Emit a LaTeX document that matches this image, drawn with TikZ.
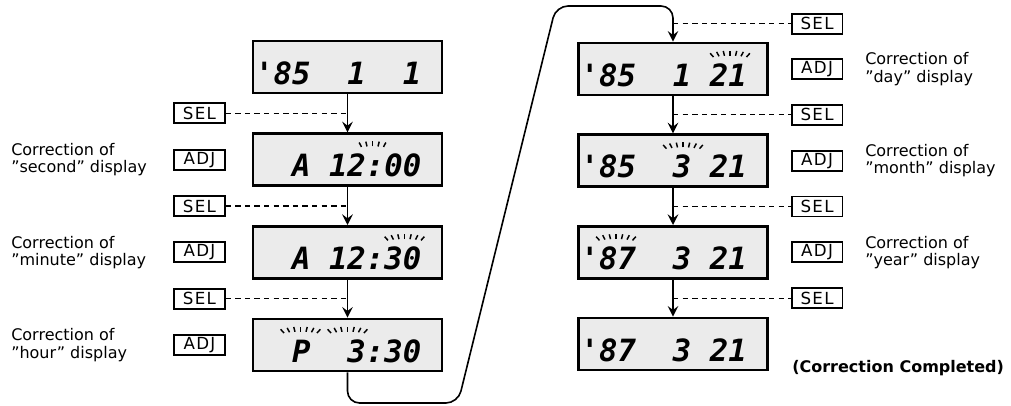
\documentclass[tikz,border=0pt]{standalone}
\usepackage{fontspec}
\setmainfont{DejaVu Sans}
\newfontfamily\lcdfont{DejaVu Sans Mono Bold Oblique}
\newfontfamily\keyfont{DejaVu Sans}[LetterSpace=8]
\usetikzlibrary{arrows.meta,positioning,calc}

\newcommand{\blinkmarks}[3]{%
  \foreach \k in {-#3,...,#3}
    \draw[ray] ($(#1.north)+(#2+\k*5.5,{-14-0.15*\k*\k})$) -- ++({90-\k*14}:5);}

\begin{document}
\begin{tikzpicture}[x=0.75pt,y=0.75pt,>={Stealth[length=8pt,width=8pt,inset=3pt]},
  lcd/.style={draw,line width=2pt,fill=black!8,minimum width=141.75pt,minimum height=39pt,inner sep=0pt,
    font=\lcdfont\fontsize{23}{24}\selectfont,text height=25.5pt,text depth=0pt},
  keybox/.style={draw,line width=1.3pt,minimum width=38pt,minimum height=15pt,inner sep=0pt,
    font=\keyfont\fontsize{12.5}{14}\selectfont},
  lab/.style={anchor=west,align=left,inner sep=0pt,font=\fontsize{12}{13}\selectfont},
  flow/.style={line width=1.2pt},
  hint/.style={line width=0.9pt,dash pattern=on 4pt off 3.2pt},
  ray/.style={line width=1.1pt}]
\useasboundingbox (0,0) rectangle (1011,405);
% displays, left column
\node (d1) [lcd] at (347.5,338) {\llap{'}85~~1~~1};
\node (d2) [lcd,below=28.5pt of d1] {~A~12:00};
\node (d3) [lcd,below=28.5pt of d2] {~A~12:30};
\node (d4) [lcd,below=28.5pt of d3] {~P~~3:30};
% displays, right column
\node (d5) [lcd] at (673,336) {\llap{'}85~~1~21};
\node (d6) [lcd,below=27.75pt of d5] {\llap{'}85~~3~21};
\node (d7) [lcd,below=27.75pt of d6] {\llap{'}87~~3~21};
\node (d8) [lcd,below=27.75pt of d7] {\llap{'}87~~3~21};
% ADJ keys
\node (adj2) [keybox,left=19.5pt of d2] {ADJ};
\node (adj3) [keybox,left=19.5pt of d3] {ADJ};
\node (adj4) [keybox,left=19.5pt of d4] {ADJ};
\node (adj5) [keybox,right=16.5pt of d5] {ADJ};
\node (adj6) [keybox,right=16.5pt of d6] {ADJ};
\node (adj7) [keybox,right=16.5pt of d7] {ADJ};
% SEL keys, half way between displays
\coordinate (bot) at (0,2);
\coordinate (turn) at (673,399);
\coordinate (m1) at ($(d1.south)!.5!(d2.north)$);
\coordinate (m2) at ($(d2.south)!.5!(d3.north)$);
\coordinate (m3) at ($(d3.south)!.5!(d4.north)$);
\coordinate (m4) at ($(turn)!.5!(d5.north)$);
\coordinate (m5) at ($(d5.south)!.5!(d6.north)$);
\coordinate (m6) at ($(d6.south)!.5!(d7.north)$);
\coordinate (m7) at ($(d7.south)!.5!(d8.north)$);
\node (sel1) [keybox] at (adj2 |- m1) {SEL};
\node (sel2) [keybox] at (adj3 |- m2) {SEL};
\node (sel3) [keybox] at (adj4 |- m3) {SEL};
\node (sel4) [keybox] at (adj5 |- m4) {SEL};
\node (sel5) [keybox] at (adj5 |- m5) {SEL};
\node (sel6) [keybox] at (adj6 |- m6) {SEL};
\node (sel7) [keybox] at (adj7 |- m7) {SEL};
% captions
\coordinate (lx) at (11,0);
\coordinate (rx) at (865,0);
\node (lab2) [lab] at (lx |- adj2) {Correction of\\''second'' display};
\node (lab3) [lab] at (lx |- adj3) {Correction of\\''minute'' display};
\node (lab4) [lab] at (lx |- adj4) {Correction of\\''hour'' display};
\node (lab5) [lab] at (rx |- adj5) {Correction of\\''day'' display};
\node (lab6) [lab] at (rx |- adj6) {Correction of\\''month'' display};
\node (lab7) [lab] at (rx |- adj7) {Correction of\\''year'' display};
\node (done) [lab,font=\bfseries\fontsize{12}{14}\selectfont] at (792,37) {(Correction Completed)};
% flow
\draw[flow,->] (d1) -- (d2);
\draw[flow,->] (d2) -- (d3);
\draw[flow,->] (d3) -- (d4);
\draw[flow,->,rounded corners=9pt] (d4.south) -- (d4.south |- bot) -- (458,2) -- (556,399) -- (turn) -- (d5.north);
\draw[flow,->] (d5) -- (d6);
\draw[flow,->] (d6) -- (d7);
\draw[flow,->] (d7) -- (d8);
\draw[hint] (sel1) -- (sel1 -| d1);
\draw[hint] (sel2) -- (sel2 -| d2);
\draw[hint] (sel3) -- (sel3 -| d3);
\draw[hint] (sel4 -| d5) -- (sel4);
\draw[hint] (sel5 -| d5) -- (sel5);
\draw[hint] (sel6 -| d6) -- (sel6);
\draw[hint] (sel7 -| d7) -- (sel7);
% blinking digits
\blinkmarks{d2}{25}{2}
\blinkmarks{d3}{57}{3}
\blinkmarks{d4}{-47}{3}
\blinkmarks{d4}{0}{3}
\blinkmarks{d5}{57}{3}
\blinkmarks{d6}{10}{3}
\blinkmarks{d7}{-57}{3}
\end{tikzpicture}
\end{document}
